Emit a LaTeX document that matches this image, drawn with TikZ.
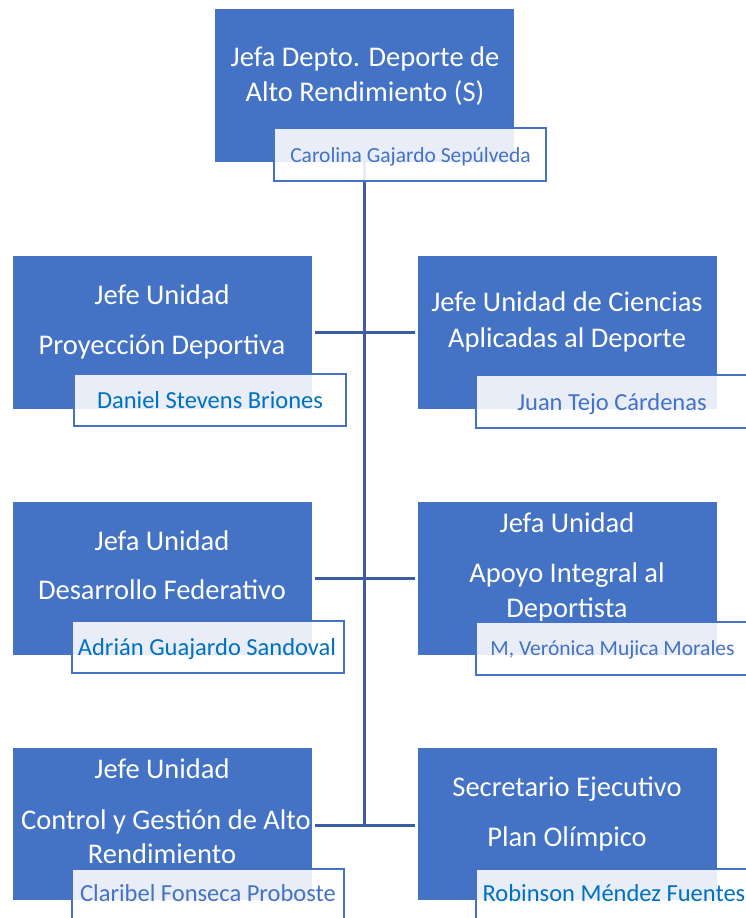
\documentclass[tikz,border=0pt]{standalone}
\usepackage{fontspec}
\setmainfont{Carlito}
\definecolor{boxblue}{HTML}{4472C4}
\definecolor{linkblue}{HTML}{3A5DA3}
\definecolor{namedark}{HTML}{0070C0}
\begin{document}
\begin{tikzpicture}[x=1pt,y=-1pt,
  rolebox/.style={fill=boxblue, draw=none},
  namebox/.style={fill=white, fill opacity=0.88, draw=boxblue, line width=1.6pt},
  roletext/.style={text=white, font=\fontsize{28.5}{32}\selectfont, anchor=base, inner sep=0pt},
  nametext/.style={text=boxblue, font=\fontsize{24.5}{28}\selectfont, anchor=base, inner sep=0pt},
  namesmall/.style={nametext, font=\fontsize{21.5}{25}\selectfont},
  namedk/.style={nametext, text=namedark},
  link/.style={draw=linkblue, line width=3pt}]
\useasboundingbox (0,0) rectangle (746,918);
\clip (0,0) rectangle (746,918);
% role boxes
\path[rolebox] (215,9) rectangle (514,162);
\coordinate (topS) at (364.5,162);
\path[rolebox] (13,256) rectangle (312,409);
\path[rolebox] (418,256) rectangle (717,409);
\path[rolebox] (13,502) rectangle (312,655);
\path[rolebox] (418,502) rectangle (717,655);
\path[rolebox] (13,748) rectangle (312,900);
\path[rolebox] (418,748) rectangle (717,900);
% junctions
\coordinate (j3) at (364.5,825);
\coordinate (l1) at (315,332); \coordinate (r1) at (415,332);
\coordinate (l2) at (315,578); \coordinate (r2) at (415,578);
\coordinate (l3) at (315,825); \coordinate (r3) at (415,825);
\draw[link] (topS) -- (j3);
\draw[link] (l1) -- (r1);
\draw[link] (l2) -- (r2);
\draw[link] (l3) -- (r3);
% role texts
\node[roletext] (t0a) at (365,66) {Jefa Depto. Deporte de};
\node[roletext] (t0b) at (365,101) {Alto Rendimiento (S)};
\node[roletext] (t1a) at (162,304) {Jefe Unidad};
\node[roletext] (t1b) at (162,354) {Proyección Deportiva};
\node[roletext] (t2a) at (567,311) {Jefe Unidad de Ciencias};
\node[roletext] (t2b) at (567,347) {Aplicadas al Deporte};
\node[roletext] (t3a) at (162,550) {Jefa Unidad};
\node[roletext] (t3b) at (162,599) {Desarrollo Federativo};
\node[roletext] (t4a) at (567,532) {Jefa Unidad};
\node[roletext] (t4b) at (567,582) {Apoyo Integral al};
\node[roletext] (t4c) at (567,617) {Deportista};
\node[roletext] (t5a) at (162,778) {Jefe Unidad};
\node[roletext] (t5b) at (166,829) {Control y Gestión de Alto};
\node[roletext] (t5c) at (162,863) {Rendimiento};
\node[roletext] (t6a) at (567,796) {Secretario Ejecutivo};
\node[roletext] (t6b) at (567,846) {Plan Olímpico};
% name boxes
\path[namebox] (274,128) rectangle (546,181);
\path[namebox] (74,374) rectangle (346,426);
\path[namebox] (476,375) rectangle (760,428);
\path[namebox] (72,621) rectangle (344,673);
\path[namebox] (476,622) rectangle (760,675);
\path[namebox] (72,869) rectangle (344,930);
\path[namebox] (476,869) rectangle (760,930);
% names
\node[namesmall] (n0) at (410.5,162) {Carolina Gajardo Sepúlveda};
\node[namedk] (n1) at (210,408) {Daniel Stevens Briones};
\node[nametext] (n2) at (612,410) {Juan Tejo Cárdenas};
\node[namedk] (n3) at (207,655) {Adrián Guajardo Sandoval};
\node[namesmall] (n4) at (612.5,655) {M, Verónica Mujica Morales};
\node[nametext] (n5) at (208,901) {Claribel Fonseca Proboste};
\node[namedk] (n6) at (614,901) {Robinson Méndez Fuentes};
\end{tikzpicture}
\end{document}
